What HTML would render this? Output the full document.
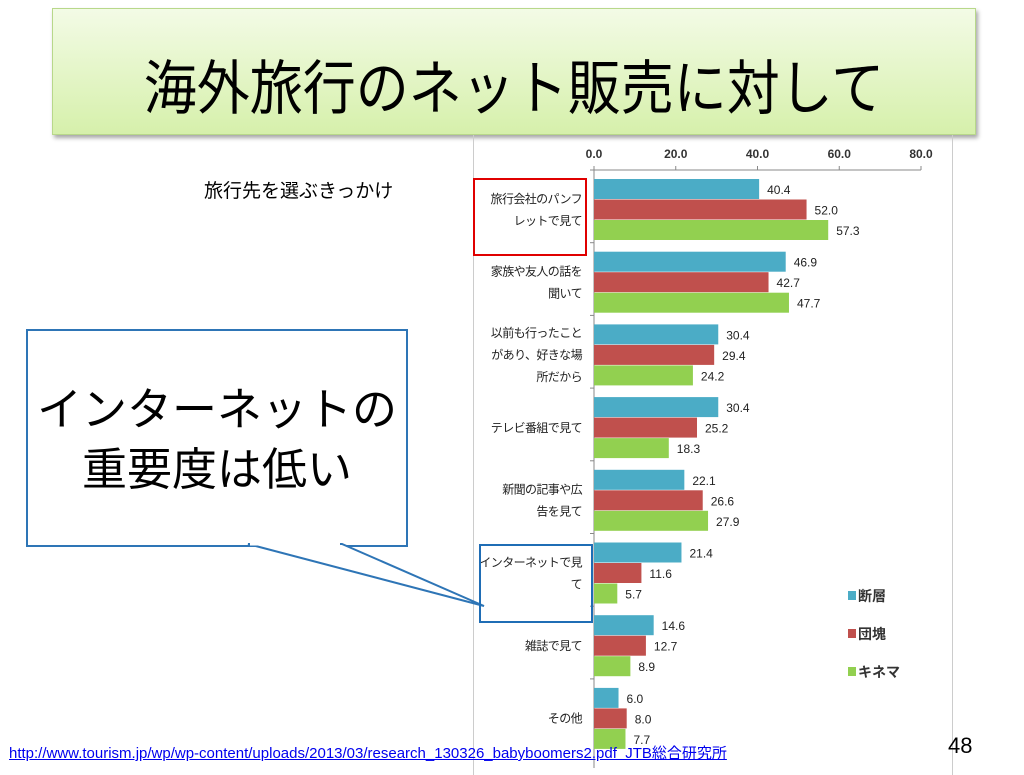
<!DOCTYPE html>
<html><head><meta charset="utf-8"><style>
body{margin:0;width:1024px;height:768px;background:#fff;position:relative;overflow:hidden;font-family:"Liberation Sans","Noto Sans CJK JP",sans-serif;}
.abs{position:absolute;}
</style></head><body>
<div class="abs" style="left:52px;top:8px;width:922px;height:125px;background:linear-gradient(#f3fbe6,#d6f0ab);border:1px solid #b8d88a;box-shadow:2px 3px 4px rgba(0,0,0,0.35);"></div>
<div class="abs" style="left:52px;top:52px;width:924px;text-align:center;font-size:53px;line-height:76px;color:#000;transform:scaleY(1.12);">海外旅行のネット販売に対して</div>
<div class="abs" style="left:204px;top:176px;font-size:19px;color:#000;">旅行先を選ぶきっかけ</div>
<div class="abs" style="left:473px;top:135px;width:478px;height:640px;border-left:1px solid #ccc;border-right:1px solid #ccc;"></div>
<svg class="abs" style="left:0;top:0" width="1024" height="768">
<g id="chart"></g>
</svg>
<div class="abs" style="left:26px;top:329px;width:378px;height:214px;border:2px solid #2e75b6;background:#fff;"></div>
<svg class="abs" style="left:0;top:0" width="1024" height="768">
<polygon points="248,544 342,544 484,606" fill="#fff" stroke="#2e75b6" stroke-width="2"/>
<line x1="250" y1="544" x2="340" y2="544" stroke="#fff" stroke-width="3"/>
</svg>
<div class="abs" style="left:28px;top:380px;width:378px;text-align:center;font-size:45px;line-height:60px;color:#000;">インターネットの<br>重要度は低い</div>
<div class="abs" style="left:473px;top:178px;width:110px;height:74px;border:2px solid #e00000;"></div>
<div class="abs" style="left:479px;top:544px;width:110px;height:75px;border:2px solid #1f6db5;"></div>
<div class="abs" style="left:9px;top:742px;font-size:15px;color:#0000ee;text-decoration:underline;">http://www.tourism.jp/wp/wp-content/uploads/2013/03/research_130326_babyboomers2.pdf&nbsp; JTB総合研究所</div>
<div class="abs" style="left:948px;top:733px;font-size:22px;color:#000;">48</div>
<script>
const categories=[["旅行会社のパンフ","レットで見て"],["家族や友人の話を","聞いて"],["以前も行ったこと","があり、好きな場","所だから"],["テレビ番組で見て"],["新聞の記事や広","告を見て"],["インターネットで見","て"],["雑誌で見て"],["その他"]];
const seriesNames=["断層","団塊","キネマ"];
const dansou=[40.4,46.9,30.4,30.4,22.1,21.4,14.6,6.0];
const dankai=[52.0,42.7,29.4,25.2,26.6,11.6,12.7,8.0];
const kinema=[57.3,47.7,24.2,18.3,27.9,5.7,8.9,7.7];
const ticks=[0,20,40,60,80];
const colors=["#4bacc6","#c0504d","#92d050"];
const NS="http://www.w3.org/2000/svg";
const g=document.getElementById('chart');
const x0=594,x1=921,top0=170,groupH=72.7,barH=20.5;
const xs=v=>x0+(v/80)*(x1-x0);
function mk(t,a,txt){const e=document.createElementNS(NS,t);for(const k in a)e.setAttribute(k,a[k]);if(txt!==undefined)e.textContent=txt;g.appendChild(e);return e;}
let ax=mk('line',{x1:x0,y1:top0,x2:x1,y2:top0,stroke:'#888','stroke-width':1});


let ay=mk('line',{x1:x0,y1:top0,x2:x0,y2:768,stroke:'#888','stroke-width':1});


ticks.forEach(t=>{
 let tl=mk('text',{x:xs(t),y:158,'text-anchor':'middle','font-size':12,'font-weight':'bold',fill:'#333'},t.toFixed(1));
 
 
 mk('line',{x1:xs(t),y1:top0,x2:xs(t),y2:top0-4,stroke:'#888'});
});
const data=[dansou,dankai,kinema];
categories.forEach((c,i)=>{
 const gy=top0+i*groupH;
 mk('line',{x1:x0-4,y1:gy,x2:x0,y2:gy,stroke:'#888'});
 data.forEach((s,j)=>{
  const y=gy+9+j*barH;
  let r=mk('rect',{x:x0,y:y,width:xs(s[i])-x0,height:barH-0.5,fill:colors[j]});
  
  
  let v=mk('text',{x:xs(s[i])+8,y:y+15,'font-size':12,fill:'#222'},s[i].toFixed(1));
  
  
 });
 const cy=gy+9+1.5*barH - (c.length-1)*11 + 4;
 c.forEach((line,k)=>{
  let t=mk('text',{x:582,y:cy+k*22,'text-anchor':'end','font-size':12,'letter-spacing':-0.6,fill:'#222'},line);
  
  
 });
});
seriesNames.forEach((n,j)=>{
 const y=600+j*38;
 let r=mk('rect',{x:848,y:y-9,width:8,height:9,fill:colors[j]});
 
 
 let t=mk('text',{x:858,y:y+1,'font-size':14,'font-weight':'bold',fill:'#333'},n);
 
 
});
</script>
</body></html>
